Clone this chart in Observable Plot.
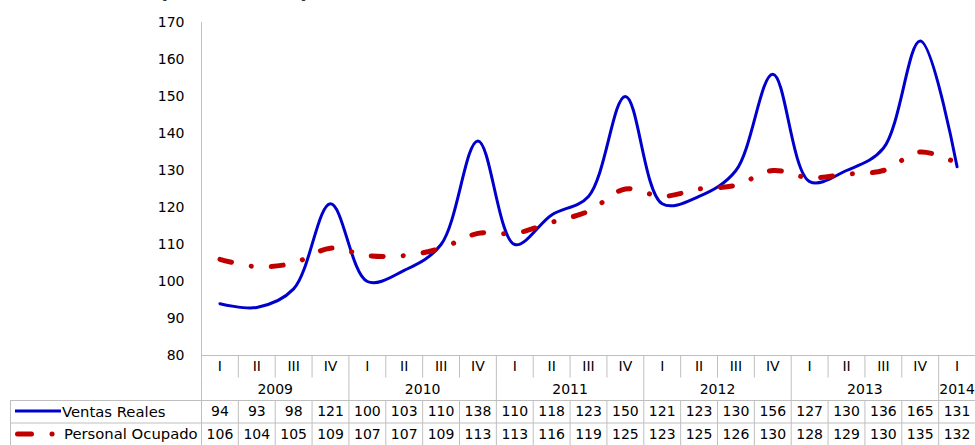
<!DOCTYPE html>
<html>
<head>
<meta charset="utf-8">
<script src="https://cdn.jsdelivr.net/npm/d3@7"></script>
<script src="https://cdn.jsdelivr.net/npm/@observablehq/plot@0.6"></script>
<style>
  body { margin: 0; background: #fff; font-family: "DejaVu Sans", sans-serif; }
  #wrap { position: relative; width: 975px; height: 445px; overflow: hidden; background: #fff; }
  #title { position: absolute; left: 158px; top: -23px; font-size: 23px; font-weight: bold; white-space: nowrap; color: #000; }
  #chart, #table { position: absolute; left: 0; }
  #chart { top: 0; }
  #table { top: 355px; }
  svg { display: block; }
  .leg { position: absolute; left: 10px; width: 191px; height: 22.5px; border-left: 1px solid #bfbfbf;
         box-sizing: border-box; display: flex; align-items: center; font-size: 14.8px; color: #000; white-space: nowrap; }
  .leg svg { flex: none; }
</style>
</head>
<body>
<div id="wrap">
  <div id="title">(2009=100)</div>
  <div id="chart"></div>
  <div id="table"></div>
  <div class="leg" style="top:400px">
    <svg width="51" height="10"><line x1="4" x2="50" y1="5" y2="5" stroke="#0000cc" stroke-width="3"></line></svg>
    <span>Ventas Reales</span>
  </div>
  <div class="leg" style="top:422.5px">
    <svg width="53" height="10"><line x1="6.5" x2="42" y1="5" y2="5" stroke="#c00000" stroke-width="5" stroke-linecap="round" stroke-dasharray="14,20.5,0.1,100"></line></svg>
    <span>Personal Ocupado</span>
  </div>
</div>
<script>
const quarters = ["I","II","III","IV","I","II","III","IV","I","II","III","IV","I","II","III","IV","I","II","III","IV","I"];
const years = [2009,2009,2009,2009,2010,2010,2010,2010,2011,2011,2011,2011,2012,2012,2012,2012,2013,2013,2013,2013,2014];
const ventas = [94,93,98,121,100,103,110,138,110,118,123,150,121,123,130,156,127,130,136,165,131];
const personal = [106,104,105,109,107,107,109,113,113,116,119,125,123,125,126,130,128,129,130,135,132];
const yTicks = [80,90,100,110,120,130,140,150,160,170];

const n = quarters.length;
const idx = d3.range(n);
const grey = "#bfbfbf";
const font = {fontFamily: "DejaVu Sans", fontSize: "14px", color: "#000", background: "transparent"};

const chart = Plot.plot({
  width: 975, height: 445,
  marginLeft: 201, marginRight: 0, marginTop: 22, marginBottom: 90,
  x: {domain: [-0.5, n - 0.5], axis: null},
  y: {domain: [80, 170], axis: null},
  style: font,
  marks: [
    Plot.axisY({ticks: yTicks, tickSize: 0, tickPadding: 17, label: null, fontSize: 14, fill: "#000"}),
    Plot.ruleX([-0.5], {stroke: grey, strokeWidth: 1}),
    Plot.line(idx, {x: i => i, y: i => ventas[i], stroke: "#0000cc", strokeWidth: 3, curve: "catmull-rom"}),
    Plot.line(idx, {x: i => i, y: i => personal[i], stroke: "#c00000", strokeWidth: 5, curve: "catmull-rom",
      strokeDasharray: "12,20,0.1,20", strokeLinecap: "round"})
  ]
});
document.getElementById("chart").appendChild(chart);

// year groups
const yearList = Array.from(new Set(years));
const yearGroups = yearList.map(y => {
  const ids = idx.filter(i => years[i] === y);
  return {year: y, start: ids[0], center: d3.mean(ids)};
});

const table = Plot.plot({
  width: 975, height: 90,
  marginLeft: 201, marginRight: 0, marginTop: 0, marginBottom: 0,
  x: {domain: [-0.5, n - 0.5], axis: null},
  y: {domain: [0, 4], range: [0, 90], axis: null},
  style: font,
  marks: [
    Plot.ruleY([0], {stroke: grey}),
    Plot.ruleY([2, 3], {stroke: grey, insetLeft: -191}),
    Plot.ruleX(idx, {x: i => i - 0.5, y1: () => 0, y2: () => 1, stroke: grey}),
    Plot.ruleX(yearGroups, {x: g => g.start - 0.5, y1: () => 1, y2: () => 2, stroke: grey}),
    Plot.ruleX(idx, {x: i => i - 0.5, y1: () => 2, y2: () => 4, stroke: grey}),
    Plot.text(idx, {x: i => i, y: () => 0.5, text: i => quarters[i], fill: "#000", fontSize: 14}),
    Plot.text(yearGroups, {x: g => g.center, y: () => 1.5, text: g => String(g.year), fill: "#000", fontSize: 14}),
    Plot.text(idx, {x: i => i, y: () => 2.5, text: i => String(ventas[i]), fill: "#000", fontSize: 14}),
    Plot.text(idx, {x: i => i, y: () => 3.5, text: i => String(personal[i]), fill: "#000", fontSize: 14})
  ]
});
document.getElementById("table").appendChild(table);
</script>
</body>
</html>
